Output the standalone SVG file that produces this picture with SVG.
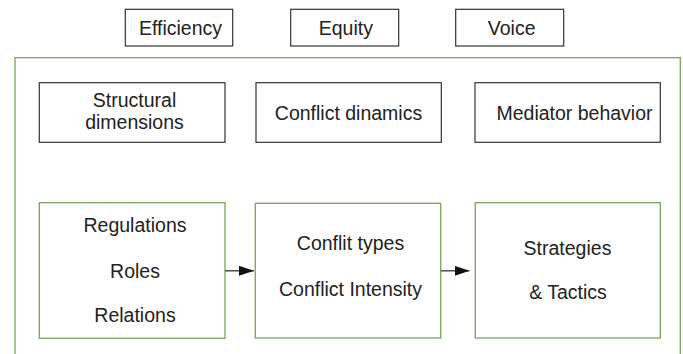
<svg xmlns="http://www.w3.org/2000/svg" width="683" height="354" viewBox="0 0 683 354">
<defs>
<style>
.b{fill:#fff;stroke:#333;stroke-width:1.2}
.g{fill:#fff;stroke:#7aa35c;stroke-width:1.3}
.t{font-family:"Liberation Sans",Arial,sans-serif;font-size:19.5px;fill:#222;text-anchor:middle}
.c{stroke:#333;stroke-width:1.3;fill:none}
</style>
<marker id="ah" markerWidth="15" markerHeight="10" refX="15" refY="5" orient="auto" markerUnits="userSpaceOnUse">
<path d="M0,0 L15,5 L0,10 Z" fill="#111"/>
</marker>
</defs>
<rect width="683" height="354" fill="#fff"/>
<g id="frame"><rect class="g" x="15" y="57.7" width="665.3" height="320"/></g>
<g id="efficiency"><rect class="b" x="125.3" y="9.3" width="107.4" height="36.7"/><text class="t" x="180.5" y="35">Efficiency</text></g>
<g id="equity"><rect class="b" x="290.7" y="9.3" width="108" height="36.7"/><text class="t" x="345.8" y="35">Equity</text></g>
<g id="voice"><rect class="b" x="455.7" y="9.3" width="108" height="36.7"/><text class="t" x="511.7" y="35">Voice</text></g>
<g id="structural"><rect class="b" x="39.3" y="82.7" width="185.7" height="59.6"/><text class="t" x="134.5" y="107">Structural</text><text class="t" x="134.5" y="128.5">dimensions</text></g>
<g id="dinamics"><rect class="b" x="256" y="82.7" width="185.3" height="59.6"/><text class="t" x="348.5" y="120">Conflict dinamics</text></g>
<g id="mediator"><rect class="b" x="475" y="82.7" width="185.3" height="59.6"/><text class="t" x="574.5" y="120">Mediator behavior</text></g>
<g id="regulations"><rect class="g" x="39.3" y="202.7" width="185.7" height="135.6"/><text class="t" x="135" y="231.7">Regulations</text><text class="t" x="135" y="278">Roles</text><text class="t" x="135" y="322.3">Relations</text></g>
<g id="conflit"><rect class="g" x="255.3" y="203.3" width="185.4" height="134.7"/><text class="t" x="350.5" y="250">Conflit types</text><text class="t" x="350.5" y="295.5">Conflict Intensity</text></g>
<g id="strategies"><rect class="g" x="475.3" y="202.7" width="185" height="135.3"/><text class="t" x="567.5" y="255">Strategies</text><text class="t" x="568" y="299.3">&amp; Tactics</text></g>
<g id="connectors">
<line class="c" x1="225" y1="270.8" x2="254" y2="270.8" marker-end="url(#ah)"/>
<line class="c" x1="441" y1="270.8" x2="469.5" y2="270.8" marker-end="url(#ah)"/>
</g>
</svg>
